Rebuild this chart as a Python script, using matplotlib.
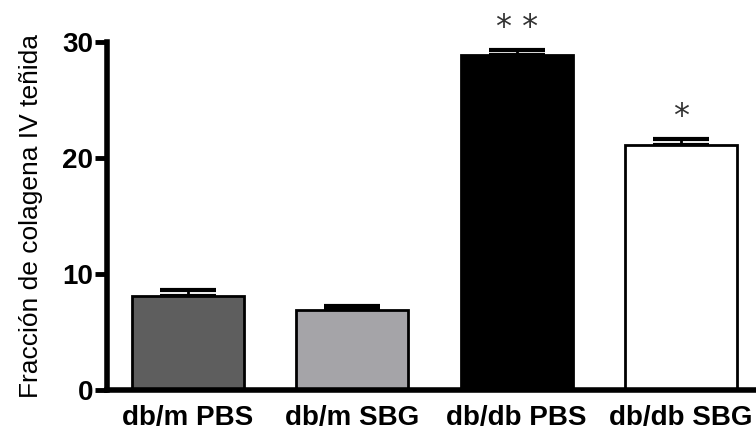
import matplotlib
matplotlib.use("Agg")
import matplotlib.pyplot as plt

groups = ["db/m PBS", "db/m SBG", "db/db PBS", "db/db SBG"]
means = [8.1, 6.9, 28.9, 21.1]
errors = [0.5, 0.3, 0.4, 0.5]
colors = ["#5e5e5e", "#a5a4a8", "#000000", "#ffffff"]
stars = ["", "", "**", "*"]

plt.rcParams["font.family"] = ["Liberation Sans", "DejaVu Sans"]

fig = plt.figure(figsize=(7.56, 4.32), dpi=100)
ax = fig.add_axes([0.1415, 0.0972, 0.8585, 0.8056])

x = range(len(groups))
ax.bar(x, means, width=0.68, color=colors, edgecolor="black", linewidth=2, zorder=2)
ax.errorbar(x, means, yerr=[[0] * 4, errors], fmt="none", ecolor="black",
            elinewidth=2, capsize=20, capthick=3, zorder=1)

for i in x:
    if stars[i]:
        ax.text(i, means[i] + errors[i] + 0.6, " ".join(stars[i]), ha="center",
                va="bottom", fontsize=23, color="#333333", clip_on=False,
                family="DejaVu Sans")

ax.set_xlim(-0.493, 3.456)
ax.set_ylim(0, 30)
ax.set_yticks([0, 10, 20, 30])
ax.set_xticks(list(x))
ax.set_xticklabels(groups, fontsize=20, fontweight="bold")
for lab in ax.get_yticklabels():
    lab.set_fontsize(20)
    lab.set_fontweight("bold")
ax.tick_params(axis="y", length=9, width=3.5, pad=1)
ax.tick_params(axis="x", length=0, pad=11)
ax.spines["top"].set_visible(False)
ax.spines["right"].set_visible(False)
ax.spines["left"].set_linewidth(4)
ax.spines["bottom"].set_linewidth(4)
ax.set_ylabel("Fracción de colagena IV teñida", fontsize=19, labelpad=14)

fig.savefig("out.png", dpi=100)
